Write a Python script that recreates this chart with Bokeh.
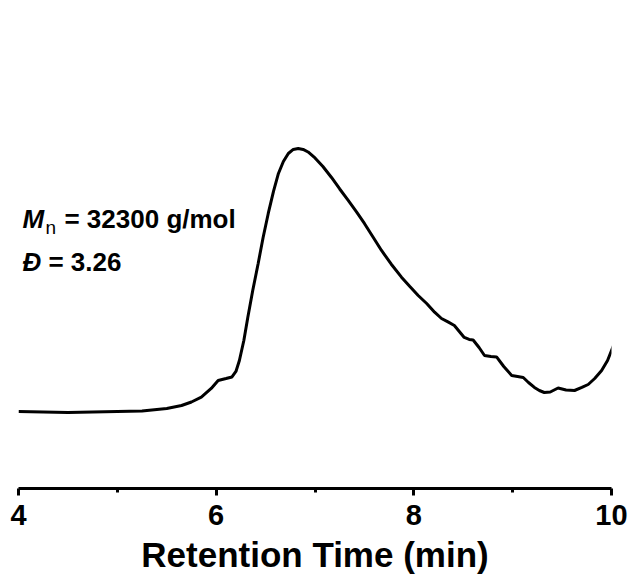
from bokeh.plotting import figure
from bokeh.models import Range1d, Label, FixedTicker
from bokeh.embed import file_html
from bokeh.resources import INLINE

# Retention time (min) and detector signal (a.u., peak = 100)
retention_time = [4.0, 4.25, 4.5, 4.75, 5.0, 5.25, 5.5, 5.65, 5.75, 5.85, 5.95, 6.02,
                  6.1, 6.16, 6.2, 6.235, 6.28, 6.32, 6.37, 6.425, 6.475, 6.527, 6.58,
                  6.63, 6.68, 6.73, 6.78, 6.83, 6.88, 6.93, 7.0, 7.08, 7.167, 7.25,
                  7.336, 7.42, 7.5, 7.59, 7.673, 7.77, 7.875, 7.96, 8.044, 8.13, 8.21,
                  8.28, 8.35, 8.41, 8.46, 8.51, 8.56, 8.6, 8.66, 8.715, 8.78, 8.837,
                  8.91, 8.99, 9.05, 9.107, 9.16, 9.22, 9.27, 9.32, 9.38, 9.46, 9.54,
                  9.626, 9.7, 9.764, 9.83, 9.9, 9.96, 10.0, 10.02]
signal = [22.42, 22.27, 22.12, 22.27, 22.42, 22.57, 23.30, 24.19, 25.22, 26.64, 29.20,
          31.56, 32.15, 32.60, 34.22, 37.46, 43.36, 50.15, 58.11, 66.08, 73.75, 80.83,
          87.32, 92.63, 96.17, 98.53, 99.71, 100.0, 99.71, 98.97, 97.20, 94.69, 91.45,
          88.05, 84.66, 81.27, 77.88, 73.75, 69.91, 65.93, 62.04, 59.29, 56.64, 54.28,
          51.71, 49.85, 48.76, 47.79, 46.02, 44.25, 43.66, 43.51, 41.30, 38.94, 38.64,
          38.50, 35.69, 33.04, 32.74, 32.45, 30.97, 29.50, 28.61, 28.02, 28.17, 29.35,
          28.76, 28.61, 29.50, 30.38, 32.15, 34.51, 37.46, 40.41, 41.89]
x_ticks = [4, 6, 8, 10]
x_minor = [5, 7, 9]
mn_text = "= 32300 g/mol"
dispersity_text = "= 3.26"

FONT = "Liberation Sans"

p = figure(width=630, height=581, output_backend="svg", toolbar_location=None,
           x_range=Range1d(4, 10), y_range=Range1d(-0.3, 140.7),
           min_border_left=18, min_border_right=19, min_border_top=10,
           min_border_bottom=93)
p.outline_line_color = None
p.grid.visible = False
p.yaxis.visible = False
p.background_fill_color = "white"
p.border_fill_color = "white"

p.line(retention_time, signal, line_color="black", line_width=3)

ax = p.xaxis[0]
ax.ticker = FixedTicker(ticks=x_ticks, minor_ticks=x_minor)
ax.axis_line_width = 3
ax.axis_line_color = "black"
ax.major_tick_line_width = 3
ax.major_tick_out = 7
ax.major_tick_in = 0
ax.minor_tick_line_width = 3
ax.minor_tick_out = 4
ax.minor_tick_in = 0
ax.major_label_text_font = FONT
ax.major_label_text_font_style = "bold"
ax.major_label_text_font_size = "29px"
ax.major_label_text_color = "black"
ax.major_label_standoff = 9
ax.axis_label = "Retention Time (min)"
ax.axis_label_text_font = FONT
ax.axis_label_text_font_style = "bold"
ax.axis_label_text_font_size = "35px"
ax.axis_label_text_color = "black"
ax.axis_label_standoff = 7

# Annotations
YM, YD = 79.1, 66.4
lbl_m = Label(x=4.04, y=YM, text="M", text_font=FONT, text_font_style="bold italic",
              text_font_size="26px", text_color="black", text_baseline="alphabetic")
lbl_n = Label(x=4.04, y=YM, x_offset=23, y_offset=-8, text="n", text_font=FONT,
              text_font_style="normal", text_font_size="19px", text_color="black",
              text_baseline="alphabetic")
lbl_mn = Label(x=4.04, y=YM, x_offset=42, text=mn_text, text_font=FONT,
               text_font_style="bold", text_font_size="26px", text_color="black",
               text_baseline="alphabetic")
lbl_d = Label(x=4.04, y=YD, text="Đ", text_font=FONT, text_font_style="bold italic",
              text_font_size="26px", text_color="black", text_baseline="alphabetic")
lbl_dv = Label(x=4.04, y=YD, x_offset=26, text=dispersity_text, text_font=FONT,
               text_font_style="bold", text_font_size="26px", text_color="black",
               text_baseline="alphabetic")
for l in (lbl_m, lbl_n, lbl_mn, lbl_d, lbl_dv):
    p.add_layout(l)

open("out.html", "w").write(file_html(p, INLINE))
